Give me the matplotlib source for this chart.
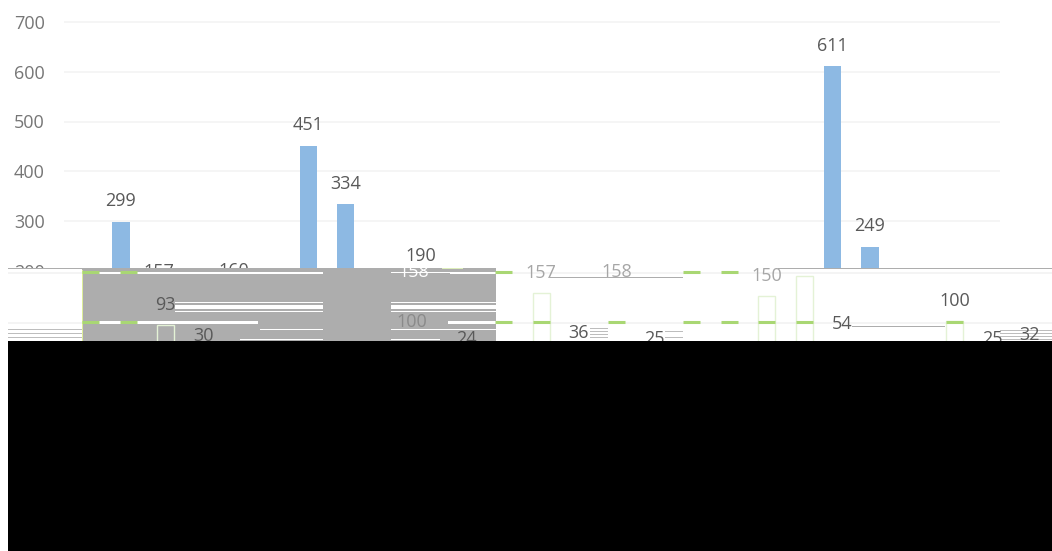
import matplotlib
matplotlib.use('Agg')
import matplotlib.pyplot as plt
from matplotlib.patches import Rectangle

plt.rcParams['font.family'] = ['Open Sans', 'DejaVu Sans']

# values (the rest is hidden by the damaged area)
y_ticks = [200, 300, 400, 500, 600, 700]
blue_pos = [0, 1, 3, 5, 6, 8, 19, 20]
blue_vals = [299, 157, 160, 451, 334, 190, 611, 249]
green_pos = [0, 1, 2, 3, 10, 11, 12, 13, 14, 15, 16, 17, 18, 19, 20, 23, 24, 25]
green_vals = [205, 205, 93, 30, 24, 205, 157, 36, 158, 25, 205, 205, 150, 190, 54, 100, 25, 32]
green_labelled = [2, 3, 10, 12, 13, 14, 15, 18, 20, 23, 24, 25]
green_faint = [12, 14, 18]
green_outlined = [2, 12, 18, 19, 23]
stray_pos = [7.77, 7.82]
stray_vals = [100, 158]

BLUE = '#8DB9E3'
GREEN = '#A9D773'
GREY = '#ADADAD'
TXT = '#595959'
FS = 13
GREEN_SCALE = 1.003
GREEN_SHIFT = -0.814
BAR_W = 0.454
W, H = 1052, 551
PX = 0.72  # points per pixel at dpi 100

fig = plt.figure(figsize=(W / 100, H / 100), dpi=100)
ax = fig.add_axes([0, 0, 1, 1], zorder=1)
ov = fig.add_axes([0, 0, 1, 1], zorder=2)
top = fig.add_axes([0, 0, 1, 1], zorder=3)

# axes mapped so that category 0 sits at 121 px and 0 at 371 px
xlim = ((0 - 121) / 37.45, (W - 121) / 37.45)
ylim = (-(H - 371) / 0.499, 371 / 0.499)
for a in (ax, top):
    a.set_xlim(xlim)
    a.set_ylim(ylim)
for s in ax.spines.values():
    s.set_visible(False)
ax.set_xticks([])
ax.set_yticks(y_ticks)
ax.tick_params(axis='y', length=0, pad=-45 * PX, labelsize=FS, labelcolor='#767676')
ax.hlines(y_ticks, 64 / W, 1000 / W, transform=ax.get_yaxis_transform(), color='#F4F4F4', lw=1.3, zorder=0)

ax.bar(blue_pos, blue_vals, width=BAR_W, color=BLUE, zorder=2)
for p, v in zip(blue_pos, blue_vals):
    ax.annotate(str(v), (p, v), xytext=(0, 20.5 * PX), textcoords='offset points',
                ha='center', va='center', fontsize=FS, color=TXT)

# damaged band of the image, in pixel coordinates
ov.set_xlim(0, W)
ov.set_ylim(H, 0)
ov.axis('off')


def rect(x0, x1, y0, y1, color):
    ov.add_patch(Rectangle((x0, y0), x1 - x0, y1 - y0, color=color, lw=0))


rect(0, W, 268, 341, 'white')
rect(82, 496, 268, 341, GREY)
for x0, x1 in [(8, 82), (496, W)]:
    for yy in (271.5, 321.5):
        rect(x0, x1, yy, yy + 2, '#F4F4F4')
rect(8, 82, 268, 269, GREY)
rect(778, W, 268, 269, GREY)
rect(442, 463, 268, 269, '#DDEEBB')
rect(550, 683, 276.5, 278, GREY)
rect(852, 945, 325.5, 327, GREY)

# white streaks through the grey block
for x0, x1, y0, y1 in [
    (82, 323, 271.5, 274), (450, 496, 271.5, 274), (391, 450, 271.5, 272.5),
    (175, 323, 302, 303), (175, 323, 305, 308.5), (175, 323, 310.5, 311.5),
    (391, 496, 302, 303), (391, 496, 305, 308.5), (391, 496, 310.5, 311.5),
    (82, 258, 321, 323.5), (448, 496, 321, 323.5),
    (260, 323, 328.5, 330), (391, 496, 328.5, 330),
    (240, 323, 338.5, 340), (391, 440, 338.5, 340),
]:
    rect(x0, x1, y0, y1, 'white')

# grey streaks on the white parts
for x0, x1, yy in [
    (8, 82, 329), (8, 82, 333), (8, 82, 337),
    (590, 608, 328), (590, 608, 331), (590, 608, 334), (590, 608, 337),
    (665, 683, 331), (665, 683, 337),
    (1000, W, 330), (1000, W, 333), (1000, W, 336), (1000, W, 339),
]:
    rect(x0, x1, yy, yy + 1, '#BDBDBD')
rect(82, 83, 270, 341, '#DDEE99')

# green series, only visible as outlines and where it crosses the gridlines
top.axis('off')
for p, v in zip(green_pos, green_vals):
    x = p * GREEN_SCALE + GREEN_SHIFT
    if p in green_outlined:
        top.bar(x, v, width=BAR_W, facecolor='none', edgecolor='#E4F2D6', lw=1, zorder=2)
    for g in (100, 200):
        if v >= g:
            # dashes sit about a pixel under the gridline in the picture
            top.hlines(g - 2, x - BAR_W / 2, x + BAR_W / 2, color=GREEN, lw=2.2, zorder=3)
    if p in green_labelled:
        top.annotate(str(v), (x, v), xytext=(0, 20 * PX), textcoords='offset points',
                     ha='center', va='center', fontsize=FS,
                     color='#A6A6A6' if p in green_faint else TXT, zorder=4)

# stray labels inside the grey block
top.text(stray_pos[0], stray_vals[0] - 2, str(stray_vals[0]), ha='center', va='center',
         fontsize=FS, color='#8A8A8A', zorder=4)
top.text(stray_pos[1], 198, str(stray_vals[1]), ha='center', va='center',
         fontsize=FS, color='white', zorder=4)

top.add_patch(Rectangle((8, 341), W - 8, H - 341, color='black', lw=0, transform=ov.transData, zorder=10))

plt.savefig('out.png', dpi=100)
